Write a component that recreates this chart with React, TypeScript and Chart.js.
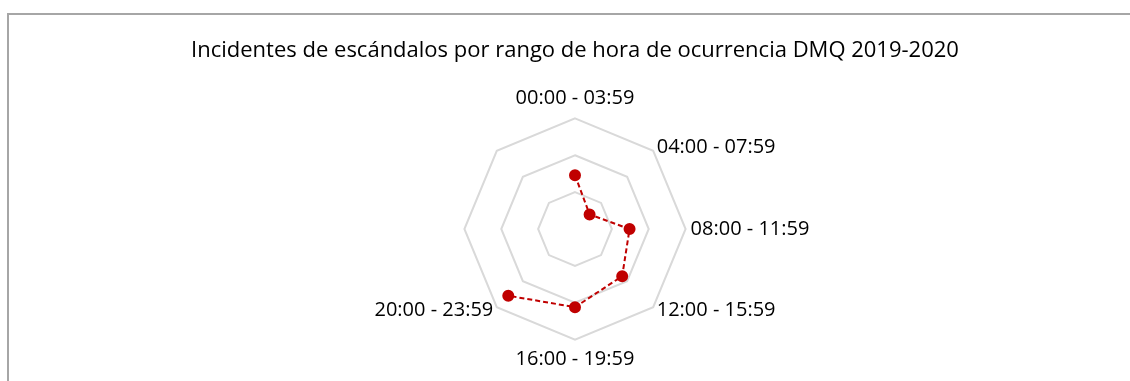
import React, { useEffect, useRef } from "react";
import { Chart, registerables } from "chart.js";

Chart.register(...registerables);

const categories = [
  "00:00 - 03:59",
  "04:00 - 07:59",
  "08:00 - 11:59",
  "12:00 - 15:59",
  "16:00 - 19:59",
  "20:00 - 23:59",
  "",
  "",
];
const incidentes = [146, 56, 148, 181, 212, 256, null, null];
const titleText = "Incidentes de escándalos por rango de hora de ocurrencia DMQ 2019-2020";

const LABEL_FONT = "20px 'Open Sans'";

const pointLabelPlugin = {
  id: "centeredPointLabels",
  afterDraw(chart: any) {
    const scale = chart.scales.r;
    if (!scale) return;
    const ctx = chart.ctx;
    const labels: string[] = chart.data.labels;
    const n = labels.length;
    ctx.save();
    ctx.font = LABEL_FONT;
    ctx.fillStyle = "#000";
    ctx.textBaseline = "middle";
    labels.forEach((lab, i) => {
      if (!lab) return;
      const pos = scale.getPointPosition(i, scale.drawingArea + 5);
      const deg = (360 / n) * i;
      let align: CanvasTextAlign = "center";
      let dy = 0;
      if (deg === 0) {
        dy = -15;
      } else if (deg === 180) {
        dy = 15;
      } else if (deg < 180) {
        align = "left";
      } else {
        align = "right";
      }
      ctx.textAlign = align;
      ctx.fillText(lab, pos.x, pos.y + dy);
    });
    ctx.restore();
  },
};

export default function App() {
  const ref = useRef<HTMLCanvasElement | null>(null);
  useEffect(() => {
    document.body.style.margin = "0";
    document.body.style.overflow = "hidden";
    const ctx = ref.current;
    if (!ctx) return;
    const chart = new Chart(ctx, {
      type: "radar",
      data: {
        labels: categories,
        datasets: [
          {
            label: "Incidentes",
            data: incidentes as any,
            borderColor: "#c00000",
            backgroundColor: "#c00000",
            pointBackgroundColor: "#c00000",
            pointBorderColor: "#c00000",
            borderWidth: 2,
            borderDash: [5, 3],
            pointRadius: 5,
            fill: false,
            spanGaps: false,
          },
        ],
      },
      options: {
        animation: false,
        responsive: true,
        maintainAspectRatio: false,
        layout: { padding: { top: 0, bottom: 0 } },
        plugins: {
          legend: { display: false },
          tooltip: { enabled: false },
          title: {
            display: true,
            text: titleText,
            color: "#000",
            font: { family: "'Open Sans'", size: 22, weight: "normal" as any },
            padding: { top: 23, bottom: 20 },
          },
        },
        scales: {
          r: {
            min: 0,
            max: 300,
            ticks: { display: false, stepSize: 100 },
            grid: { color: "#d9d9d9", lineWidth: 2 },
            angleLines: { display: false },
            pointLabels: {
              color: "rgba(0,0,0,0)",
              font: { family: "'Open Sans'", size: 20, lineHeight: 1.5 },
              padding: 4,
            },
          },
        },
      },
      plugins: [pointLabelPlugin],
    });
    return () => chart.destroy();
  }, []);
  return (
    <div
      style={{
        position: "absolute",
        left: 7,
        top: 13,
        width: 1160,
        height: 400,
        borderTop: "2px solid #a6a6a6",
        borderLeft: "2px solid #a6a6a6",
        boxSizing: "border-box",
      }}
    >
      <div style={{ position: "relative", width: 1132, height: 360 }}>
        <canvas ref={ref} />
      </div>
    </div>
  );
}
